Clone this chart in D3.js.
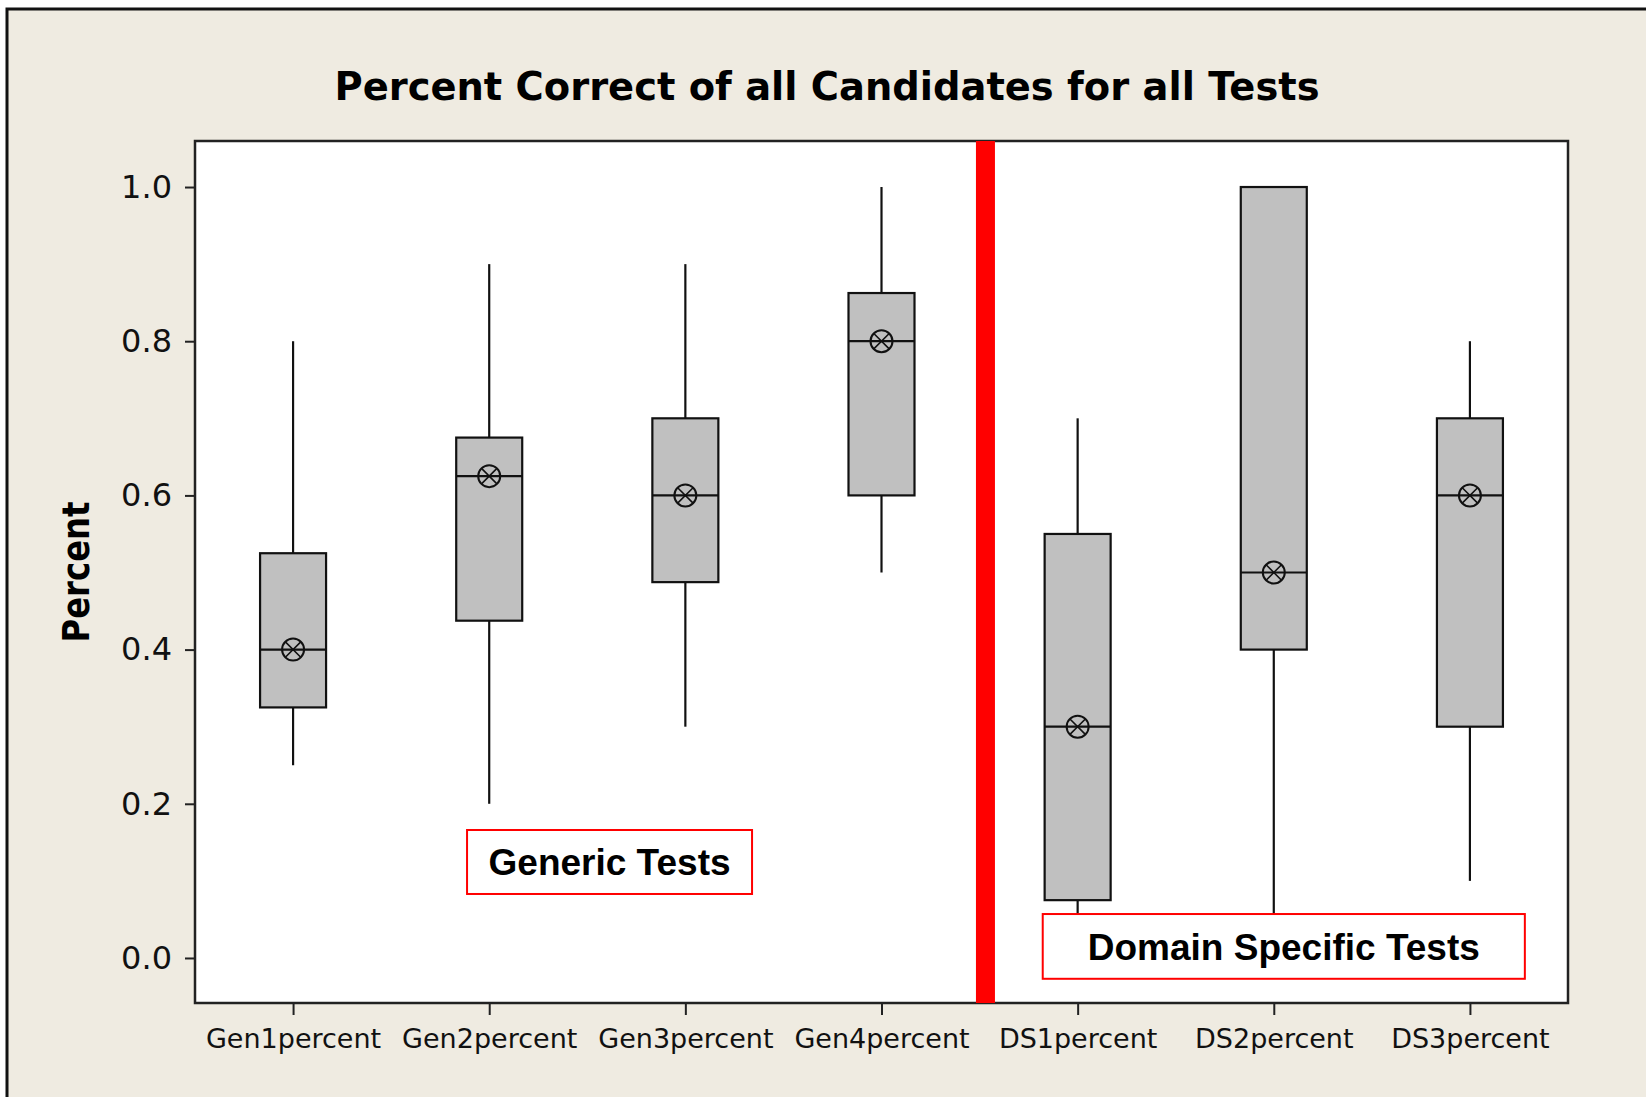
<!DOCTYPE html>
<html>
<head>
<meta charset="utf-8">
<script src="https://cdn.jsdelivr.net/npm/d3@7"></script>
<style>
	body { margin: 0; background: #fff; }
	svg { display: block; }
</style>
</head>
<body>
<div id="chart"></div>
<script>
'use strict';

// boxplot summary per test
const categories  = ["Gen1percent", "Gen2percent", "Gen3percent", "Gen4percent", "DS1percent", "DS2percent", "DS3percent"];
const whiskerLow  = [0.25,  0.20,   0.30,   0.50,   0.00,  0.00, 0.10];
const q1          = [0.325, 0.4375, 0.4875, 0.60,   0.075, 0.40, 0.30];
const median      = [0.40,  0.625,  0.60,   0.80,   0.30,  0.50, 0.60];
const q3          = [0.525, 0.675,  0.70,   0.8625, 0.55,  1.00, 0.70];
const whiskerHigh = [0.80,  0.90,   0.90,   1.00,   0.70,  1.00, 0.80];
const means       = [0.40,  0.625,  0.60,   0.80,   0.30,  0.50, 0.60];
const yTicks      = [0.0, 0.2, 0.4, 0.6, 0.8, 1.0];

// annotations, in category index / value units
const dividerAt = 3.53;
const groupLabels = [
	{ text: "Generic Tests",         x0: 0.887, x1: 2.34, y0: 0.166, y1: 0.083 },
	{ text: "Domain Specific Tests", x0: 3.822, x1: 6.28, y0: 0.057, y1: -0.027 }
];

const width = 1646, height = 1097;
const plot = { left: 195, top: 141, right: 1568, bottom: 1003 };
const boxWidth = 66;

const data = categories.map((c, i) => ({
	name: c,
	lo: whiskerLow[i], q1: q1[i], med: median[i], q3: q3[i], hi: whiskerHigh[i], mean: means[i]
}));

const svg = d3.select("#chart")
	.append("svg")
		.attr("width", width)
		.attr("height", height);

// figure background with its frame
svg.append("rect")
	.attr("x", 7).attr("y", 9)
	.attr("width", width + 20).attr("height", height + 20)
	.attr("fill", "#efebe1")
	.attr("stroke", "#111")
	.attr("stroke-width", 3);

// scales
const x = d3.scalePoint()
	.domain(categories)
	.range([plot.left, plot.right])
	.padding(0.5);

const xi = d3.scaleLinear()
	.domain([-0.5, categories.length - 0.5])
	.range([plot.left, plot.right]);

const y = d3.scaleLinear()
	.domain([-0.0584, 1.0597])
	.range([plot.bottom, plot.top]);

// plot area
svg.append("rect")
	.attr("x", plot.left).attr("y", plot.top)
	.attr("width", plot.right - plot.left)
	.attr("height", plot.bottom - plot.top)
	.attr("fill", "#fff")
	.attr("stroke", "#222")
	.attr("stroke-width", 2.5);

// axes
const yAxis = svg.append("g")
	.attr("transform", `translate(${plot.left},0)`)
	.call(d3.axisLeft(y)
		.tickValues(yTicks)
		.tickFormat(d3.format(".1f"))
		.tickSize(10)
		.tickPadding(13));
yAxis.select(".domain").remove();
yAxis.selectAll("line").attr("stroke", "#222").attr("stroke-width", 2);
yAxis.selectAll("text")
	.attr("font-family", "'DejaVu Sans', Verdana, sans-serif")
	.attr("font-size", 32)
	.attr("fill", "#111");

const xAxis = svg.append("g")
	.attr("transform", `translate(0,${plot.bottom})`)
	.call(d3.axisBottom(x)
		.tickSize(12)
		.tickPadding(14));
xAxis.select(".domain").remove();
xAxis.selectAll("line").attr("stroke", "#222").attr("stroke-width", 2);
xAxis.selectAll("text")
	.attr("font-family", "'DejaVu Sans', Verdana, sans-serif")
	.attr("font-size", 27)
	.attr("fill", "#111");

// boxes
const boxes = svg.append("g")
	.selectAll("g")
	.data(data)
	.join("g");

boxes.append("line")
	.attr("x1", d => x(d.name)).attr("x2", d => x(d.name))
	.attr("y1", d => y(d.hi)).attr("y2", d => y(d.q3))
	.attr("stroke", "#111").attr("stroke-width", 2.2);

boxes.append("line")
	.attr("x1", d => x(d.name)).attr("x2", d => x(d.name))
	.attr("y1", d => y(d.q1)).attr("y2", d => y(d.lo))
	.attr("stroke", "#111").attr("stroke-width", 2.2);

boxes.append("rect")
	.attr("x", d => x(d.name) - boxWidth / 2)
	.attr("y", d => y(d.q3))
	.attr("width", boxWidth)
	.attr("height", d => y(d.q1) - y(d.q3))
	.attr("fill", "#c0c0c0")
	.attr("stroke", "#111")
	.attr("stroke-width", 2.2);

boxes.append("line")
	.attr("x1", d => x(d.name) - boxWidth / 2)
	.attr("x2", d => x(d.name) + boxWidth / 2)
	.attr("y1", d => y(d.med)).attr("y2", d => y(d.med))
	.attr("stroke", "#111").attr("stroke-width", 2.2);

// mean symbol: circle with a cross
const r = 11;
const meanSym = boxes.append("g")
	.attr("transform", d => `translate(${x(d.name)},${y(d.mean)})`);
meanSym.append("circle")
	.attr("r", r)
	.attr("fill", "none")
	.attr("stroke", "#111")
	.attr("stroke-width", 2);
meanSym.append("path")
	.attr("d", () => {
		const k = r * 0.7;
		return `M${-k},${-k}L${k},${k}M${-k},${k}L${k},${-k}`;
	})
	.attr("stroke", "#111")
	.attr("stroke-width", 1.6);

// divider between generic and domain specific tests
svg.append("line")
	.attr("x1", xi(dividerAt)).attr("x2", xi(dividerAt))
	.attr("y1", plot.top).attr("y2", plot.bottom)
	.attr("stroke", "#ff0000")
	.attr("stroke-width", 19);

// group labels
const labels = svg.append("g")
	.selectAll("g")
	.data(groupLabels)
	.join("g");

labels.append("rect")
	.attr("x", d => xi(d.x0))
	.attr("y", d => y(d.y0))
	.attr("width", d => xi(d.x1) - xi(d.x0))
	.attr("height", d => y(d.y1) - y(d.y0))
	.attr("fill", "#fff")
	.attr("stroke", "#ff0000")
	.attr("stroke-width", 2);

labels.append("text")
	.attr("x", d => (xi(d.x0) + xi(d.x1)) / 2)
	.attr("y", d => (y(d.y0) + y(d.y1)) / 2)
	.attr("dy", "0.36em")
	.attr("text-anchor", "middle")
	.attr("font-family", "'Liberation Sans', Arial, sans-serif")
	.attr("font-weight", "bold")
	.attr("font-size", 37)
	.attr("fill", "#000")
	.text(d => d.text);

// title
svg.append("text")
	.attr("x", 827)
	.attr("y", 100)
	.attr("text-anchor", "middle")
	.attr("font-family", "'DejaVu Sans', Verdana, sans-serif")
	.attr("font-weight", "bold")
	.attr("font-size", 39)
	.attr("textLength", 985)
	.attr("lengthAdjust", "spacingAndGlyphs")
	.attr("fill", "#000")
	.text("Percent Correct of all Candidates for all Tests");

// y label
svg.append("text")
	.attr("transform", `translate(89,${(plot.top + plot.bottom) / 2}) rotate(-90)`)
	.attr("text-anchor", "middle")
	.attr("font-family", "'DejaVu Sans', Verdana, sans-serif")
	.attr("font-weight", "bold")
	.attr("font-size", 38)
	.attr("textLength", 141)
	.attr("lengthAdjust", "spacingAndGlyphs")
	.attr("fill", "#000")
	.text("Percent");
</script>
</body>
</html>
